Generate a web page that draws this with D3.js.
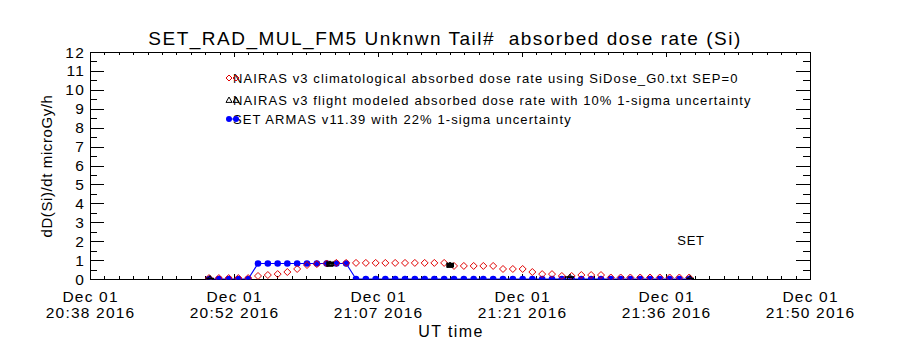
<!DOCTYPE html>
<html><head><meta charset="utf-8">
<script src="https://cdn.jsdelivr.net/npm/d3@7"></script>
<style>
body{margin:0;background:#fff}
text{font-family:"Liberation Sans",Arial,sans-serif;fill:#000}
</style></head><body>
<svg id="c" width="900" height="350"></svg>
<script>
// ---------- data ----------
const titleText = "SET_RAD_MUL_FM5 Unknwn Tail#  absorbed dose rate (Si)";
const yLabel = "dD(Si)/dt microGy/h";
const xLabel = "UT time";
const xStart = "2016-12-01T20:38:24Z";
const xEnd   = "2016-12-01T21:50:24Z";
const xTickTimes = ["2016-12-01T20:38:24Z","2016-12-01T20:52:48Z","2016-12-01T21:07:12Z",
                    "2016-12-01T21:21:36Z","2016-12-01T21:36:00Z","2016-12-01T21:50:24Z"];
const yTicks = [0,1,2,3,4,5,6,7,8,9,10,11,12];
const legendLabels = [
  "NAIRAS v3 climatological absorbed dose rate using SiDose_G0.txt SEP=0",
  "NAIRAS v3 flight modeled absorbed dose rate with 10% 1-sigma uncertainty",
  "SET ARMAS v11.39 with 22% 1-sigma uncertainty"
];
const annotation = "SET";

const sampleTimes = ["20:50:18","20:51:17","20:52:16","20:53:14","20:54:13","20:55:12","20:56:11","20:57:10",
  "20:58:08","20:59:07","21:00:06","21:01:05","21:02:04","21:03:02","21:04:01","21:05:00","21:05:59",
  "21:06:58","21:07:56","21:08:55","21:09:54","21:10:53","21:11:52","21:12:50","21:13:49","21:14:48",
  "21:15:47","21:16:46","21:17:44","21:18:43","21:19:42","21:20:41","21:21:40","21:22:38","21:23:37",
  "21:24:36","21:25:35","21:26:34","21:27:32","21:28:31","21:29:30","21:30:29","21:31:28","21:32:26",
  "21:33:25","21:34:24","21:35:23","21:36:22","21:37:20","21:38:19"];
const armasValues = [0.0,0.0,0.0,0.0,0.0,0.82,0.82,0.82,0.82,0.82,0.82,0.82,0.82,0.82,0.82,
  0.0,0.0,0.0,0.0,0.0,0.0,0.0,0.0,0.0,0.0,0.0,0.0,0.0,0.0,0.0,0.0,0.0,0.0,0.0,
  0.0,0.0,0.0,0.0,0.0,0.0,0.0,0.0,0.0,0.0,0.0,0.0,0.0,0.0,0.0,0.0];
const climValues = [0.05,0.05,0.05,0.05,0.05,0.16,0.21,0.26,0.37,0.53,0.74,0.79,0.82,0.85,0.85,
  0.85,0.85,0.85,0.85,0.85,0.85,0.85,0.85,0.85,0.85,0.69,0.69,0.69,0.69,0.69,0.53,0.53,0.53,0.37,
  0.26,0.26,0.16,0.16,0.21,0.21,0.21,0.08,0.08,0.08,0.08,0.08,0.08,0.08,0.08,0.08];
const flightTimes = ["20:50:24","21:02:24","21:14:24","21:26:24","21:38:24"];
const flightValues = [0.03,0.8,0.74,0.1,0.03];
const flightErr = 0.10;

// ---------- layout ----------
const svg = d3.select("#c");
const L = 90, R = 810, T = 52, B = 279;
const day = "2016-12-01T";
const pt = s => new Date(day + s + "Z");
const x = d3.scaleUtc().domain([new Date(xStart), new Date(xEnd)]).range([L, R]);
const y = d3.scaleLinear().domain([0, 12]).range([B, T]);

svg.append("defs").append("clipPath").attr("id","clip")
  .append("rect").attr("x",L).attr("y",T).attr("width",R-L).attr("height",B-T+0.5);

const g = svg.append("g");
const LS = "1.2px";
// x ticks (major + minor)
const t0 = +new Date(xStart), t1 = +new Date(xEnd);
const minorX = d3.range(0, 51).map(i => new Date(t0 + (t1 - t0) * i / 50));
minorX.forEach((d, i) => {
  const len = (i % 10 === 0) ? 5 : 3;
  const xx = Math.round(x(d)) + 0.5;
  g.append("line").attr("x1",xx).attr("x2",xx).attr("y1",B).attr("y2",B-len).attr("stroke","#000");
  g.append("line").attr("x1",xx).attr("x2",xx).attr("y1",T).attr("y2",T+len).attr("stroke","#000");
});
const f1 = d3.utcFormat("%b %d"), f2 = d3.utcFormat("%H:%M %Y");
xTickTimes.forEach(s => {
  const d = new Date(s);
  g.append("text").attr("x",x(d)+0.6).attr("y",302).attr("text-anchor","middle").attr("font-size",15.5)
    .style("letter-spacing",LS).text(f1(d));
  g.append("text").attr("x",x(d)+0.6).attr("y",318).attr("text-anchor","middle").attr("font-size",15.5)
    .style("letter-spacing",LS).text(f2(d));
});
// y ticks
const minorY = d3.range(0, 25).map(i => i * 0.5);
minorY.forEach((v, i) => {
  const len = (i % 2 === 0) ? 14 : 7;
  const yy = Math.round(y(v)) + 0.5;
  g.append("line").attr("x1",L).attr("x2",L+len).attr("y1",yy).attr("y2",yy).attr("stroke","#000");
  g.append("line").attr("x1",R).attr("x2",R-len).attr("y1",yy).attr("y2",yy).attr("stroke","#000");
});
yTicks.forEach(v => {
  g.append("text").attr("x",85).attr("y",y(v)+5.5).attr("text-anchor","end").attr("font-size",15.5)
    .style("letter-spacing",LS).text(v);
});
// box
g.append("rect").attr("x",L+0.5).attr("y",T+0.5).attr("width",R-L).attr("height",B-T)
  .attr("fill","none").attr("stroke","#000").attr("stroke-width",1);

// titles
svg.append("text").attr("x",445).attr("y",45).attr("text-anchor","middle").attr("font-size",19)
  .style("white-space","pre").style("letter-spacing","1.5px").text(titleText);
svg.append("text").attr("transform","translate(52,166) rotate(-90)").attr("text-anchor","middle")
  .attr("font-size",15).style("letter-spacing","0.6px").text(yLabel);
svg.append("text").attr("x",451).attr("y",337).attr("text-anchor","middle").attr("font-size",16)
  .style("letter-spacing","1.4px").text(xLabel);
svg.append("text").attr("x",691).attr("y",245).attr("text-anchor","middle").attr("font-size",13)
  .style("letter-spacing","0.8px").text(annotation);

// ---------- series ----------
const blue = "#0000ff", red = "#e00000";
const armas = sampleTimes.map((s, i) => ({t: pt(s), v: armasValues[i]}));
const clim = sampleTimes.map((s, i) => ({t: pt(s), v: climValues[i]}));
const flight = flightTimes.map((s, i) => ({t: pt(s), v: flightValues[i]}));

const pg = g.append("g").attr("clip-path","url(#clip)");
pg.append("path").datum(armas).attr("fill","none").attr("stroke",blue).attr("stroke-width",1.2)
  .attr("d", d3.line().x(d => x(d.t)).y(d => y(d.v)));
pg.selectAll(".bd").data(armas).join("circle").attr("cx",d=>x(d.t)).attr("cy",d=>y(d.v)).attr("r",3.3).attr("fill",blue);

const diamond = (cx, cy, r) => `M${cx},${cy-r}L${cx+r},${cy}L${cx},${cy+r}L${cx-r},${cy}Z`;
pg.selectAll(".rd").data(clim).join("path").attr("d", d => diamond(x(d.t), y(d.v), 3.5))
  .attr("fill","none").attr("stroke",red).attr("stroke-width",1);

const tri = (cx, cy, r) => `M${cx},${cy-r}L${cx+r},${cy+r*0.8}L${cx-r},${cy+r*0.8}Z`;
flight.forEach(d => {
  const xx = x(d.t), y0 = y(d.v * (1 - flightErr)), y1 = y(d.v * (1 + flightErr));
  pg.append("path").attr("d", `M${xx-3},${y0+1}V${y1-1}M${xx-3},${y0}H${xx+4}M${xx-3},${y1}H${xx+4}M${xx-3},${y(d.v)}H${xx+4}`)
    .attr("stroke","#000").attr("stroke-width",1.5).attr("fill","none");
  pg.append("path").attr("d", tri(xx, y(d.v), 3)).attr("fill","none").attr("stroke","#000");
});

// ---------- legend ----------
const ly = [78, 100, 119];
legendLabels.forEach((lab, i) => {
  svg.append("text").attr("x",233).attr("y",ly[i]+5).attr("font-size",13).style("letter-spacing","1.1px").text(lab);
});
[229, 236].forEach(cx => {
  svg.append("path").attr("d", diamond(cx, ly[0], 3)).attr("fill","none").attr("stroke",red);
  svg.append("path").attr("d", tri(cx, ly[1], 3)).attr("fill","none").attr("stroke","#000");
  svg.append("circle").attr("cx",cx).attr("cy",ly[2]).attr("r",3).attr("fill",blue);
});
svg.append("line").attr("x1",229).attr("x2",236).attr("y1",ly[2]).attr("y2",ly[2]).attr("stroke",blue);
</script>
</body></html>
